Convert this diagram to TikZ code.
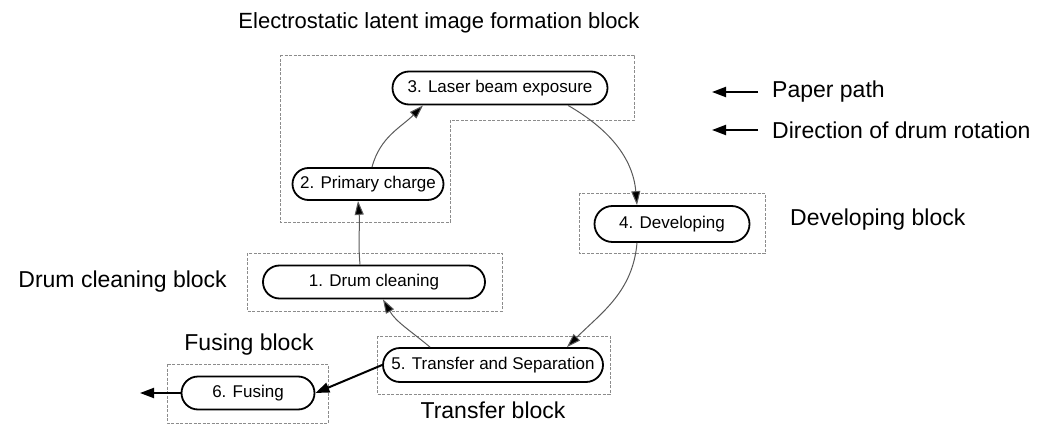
\documentclass[tikz,border=0pt]{standalone}
\usepackage{fontspec}
\setmainfont{Liberation Sans}
\usetikzlibrary{arrows.meta,shapes.misc}
\tikzset{
	stepnode/.style={draw, rounded rectangle, line width=1.8pt, inner sep=0pt, font=\fontsize{17}{19}\selectfont},
	blockbox/.style={draw=black!45, dash pattern=on 3pt off 1.5pt, line width=0.9pt},
	blocklabel/.style={font=\fontsize{23}{26}\selectfont, inner sep=0pt},
	rotarrow/.style={draw=black!65, line width=1pt, -{Triangle[length=14pt,width=9pt,fill=black]}},
	paperarrow/.style={draw=black, line width=2pt, -{Triangle[length=14pt,width=10pt]}}
}

\begin{document}
\begin{tikzpicture}[x=1pt, y=1pt]
			%%%%% START %%%%%
			\useasboundingbox (0, 0) rectangle (1039, -428);
			
			% blocks
			\draw[blockbox] (280, -55) -- (634, -55) -- (634, -120) -- (450, -120) -- (450, -222) -- (280, -222) -- cycle;
			\draw[blockbox] (579, -193) rectangle (765, -253);
			\draw[blockbox] (377, -336) rectangle (610, -394);
			\draw[blockbox] (247, -253) rectangle (502, -311);
			\draw[blockbox] (167, -364) rectangle (328, -423);
			
			% steps
			\node[stepnode, minimum width=215pt, minimum height=33pt] (laser) at (500, -88) {3. Laser beam exposure};
			\node[stepnode, minimum width=151pt, minimum height=32pt] (charge) at (368, -184) {2. Primary charge};
			\node[stepnode, minimum width=155pt, minimum height=36pt] (develop) at (672, -224) {4. Developing};
			\node[stepnode, minimum width=222pt, minimum height=33pt] (cleaning) at (374, -282) {1. Drum cleaning};
			\node[stepnode, minimum width=220pt, minimum height=34pt] (transfer) at (493, -365) {5. Transfer and Separation};
			\node[stepnode, minimum width=133pt, minimum height=33pt] (fusing) at (248, -393) {6. Fusing};
			
			% block names
			\node[blocklabel, font=\fontsize{22}{25}\selectfont] (titleelec) at (439, -23) {Electrostatic latent image formation block};
			\node[blocklabel, anchor=west] (titledev) at (790, -220) {Developing block};
			\node[blocklabel, anchor=east] (titleclean) at (227, -282) {Drum cleaning block};
			\node[blocklabel] (titlefuse) at (249, -345) {Fusing block};
			\node[blocklabel] (titletrans) at (493, -410) {Transfer block};
			
			% drum rotation
			\draw[rotarrow] ([xshift=4pt]charge.north) to[out=75, in=225] ([xshift=-77pt]laser.south);
			\draw[rotarrow] ([xshift=68pt]laser.south) to[out=-30, in=95] ([xshift=-35pt]develop.north);
			\draw[rotarrow] ([xshift=-35pt]develop.south) to[out=-95, in=45] ([xshift=74pt]transfer.north);
			\draw[rotarrow] ([xshift=-63pt]transfer.north) to[out=140, in=-60] ([xshift=9pt]cleaning.south);
			\draw[rotarrow] ([xshift=-14pt]cleaning.north) to[out=95, in=-85] ([xshift=-10pt]charge.south);
			
			% paper path
			\coordinate (paperout) at (140, -393);
			\draw[paperarrow] (transfer.west) -- (fusing.east);
			\draw[paperarrow] (fusing.west) -- (paperout);
			
			% legend
			\coordinate (legpa) at (758, -92);
			\coordinate (legpb) at (712, -92);
			\coordinate (legra) at (758, -130);
			\coordinate (legrb) at (712, -130);
			\draw[paperarrow] (legpa) -- (legpb);
			\draw[paperarrow] (legra) -- (legrb);
			\node[blocklabel, anchor=west] (legpaper) at (772, -92) {Paper path};
			\node[blocklabel, anchor=west] (legdrum) at (772, -130) {Direction of drum rotation};
			
			%%%%% END %%%%%
		\end{tikzpicture}
\end{document}
